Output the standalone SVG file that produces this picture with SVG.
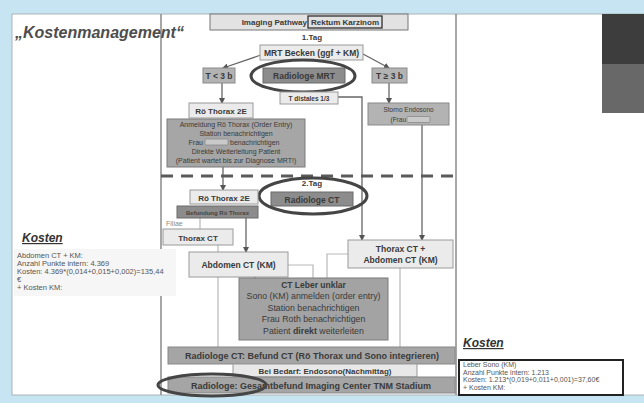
<svg xmlns="http://www.w3.org/2000/svg" width="644" height="403" viewBox="0 0 644 403">
<defs>
<style>
text{font-family:"Liberation Sans",Arial,sans-serif;fill:#3a3a3a}
.b{font-weight:bold}
.c{text-anchor:middle}
.lt{fill:#ebebeb;stroke:#9a9a9a;stroke-width:1}
.md{fill:#b3b3b3;stroke:#8a8a8a;stroke-width:1}
.dk{fill:#8c8c8c;stroke:#6a6a6a;stroke-width:1}
.gy{fill:#a6a6a6;stroke:#7a7a7a;stroke-width:1}
.ell{fill:none;stroke:#454545;stroke-width:3}
.ln{fill:none;stroke:#666;stroke-width:1.3}
.lg{fill:none;stroke:#b8b8b8;stroke-width:1.2}
.sm{font-size:7.5px;fill:#555}
.kh{font-size:12px;font-weight:bold;font-style:italic;text-decoration:underline;fill:#333}
</style>
<marker id="ar" markerWidth="6" markerHeight="6" refX="5" refY="3" orient="auto" markerUnits="userSpaceOnUse">
<path d="M0,0 L6,3 L0,6 z" fill="#555"/>
</marker>
</defs>
<!-- background / frame -->
<rect x="0" y="0" width="644" height="403" fill="#c6e4f1"/>
<rect x="12" y="14" width="633" height="381" fill="#ffffff" stroke="#a9b4b9" stroke-width="1"/>
<line x1="161" y1="14" x2="161" y2="249" stroke="#8a8a8a" stroke-width="1.5"/>
<line x1="161" y1="296" x2="161" y2="395" stroke="#8a8a8a" stroke-width="1.5"/>
<line x1="456" y1="14" x2="456" y2="395" stroke="#8a8a8a" stroke-width="1.5"/>
<rect x="602" y="14" width="42" height="50" fill="#3d3d3d"/>
<rect x="602" y="64" width="42" height="49" fill="#686868"/>

<!-- left panel -->
<g id="title-left">
<text x="15" y="38" font-size="16" font-weight="bold" font-style="italic" style="fill:#4d4d4d">„Kostenmanagement“</text>
</g>
<g id="kosten-left">
<rect x="14" y="249" width="162" height="47" fill="#f6f6f6"/>
<text x="22" y="242" class="kh">Kosten</text>
<text class="sm" x="17" y="258">Abdomen CT  + KM:</text>
<text class="sm" x="17" y="266">Anzahl Punkte intern: 4.369</text>
<text class="sm" x="17" y="274">Kosten: 4.369*(0,014+0,015+0,002)=135,44</text>
<text class="sm" x="17" y="282">€</text>
<text class="sm" x="17" y="290">+ Kosten KM:</text>
</g>

<!-- right panel -->
<g id="kosten-right">
<text x="463" y="347" class="kh">Kosten</text>
<rect x="459" y="360" width="164" height="35" fill="#ffffff" stroke="#222" stroke-width="2"/>
<text class="sm" x="463" y="367" style="font-size:7px">Leber Sono (KM)</text>
<text class="sm" x="463" y="374.5" style="font-size:7px">Anzahl Punkte intern: 1.213</text>
<text class="sm" x="463" y="382" style="font-size:7px">Kosten: 1.213*(0,019+0,011+0,001)=37,60€</text>
<text class="sm" x="463" y="389.5" style="font-size:7px">+ Kosten KM:</text>
</g>

<!-- connectors -->
<g id="connectors">
<line class="ln" x1="261" y1="55" x2="223" y2="68" marker-end="url(#ar)"/>
<line class="ln" x1="363" y1="54" x2="389" y2="68" marker-end="url(#ar)"/>
<line class="ln" x1="222" y1="83" x2="222" y2="103" marker-end="url(#ar)"/>
<line class="ln" x1="389" y1="83" x2="389" y2="103" marker-end="url(#ar)"/>
<path class="ln" d="M338,97 H362 V240" marker-end="url(#ar)"/>
<line class="ln" x1="422" y1="125" x2="422" y2="240" marker-end="url(#ar)"/>
<line class="ln" x1="223" y1="167" x2="223" y2="190" marker-end="url(#ar)"/>
<line class="ln" x1="246" y1="218" x2="246" y2="252" marker-end="url(#ar)"/>
<line class="lg" x1="200" y1="218" x2="200" y2="229"/>
<line class="lg" x1="218" y1="245" x2="218" y2="252"/>
<line class="ln" x1="255" y1="277" x2="255" y2="283"/>
<path class="lg" d="M288,265 H313 V278"/>
<path class="lg" d="M348,254 H327 V278"/>
<line class="lg" x1="218" y1="277" x2="218" y2="347"/>
<line class="lg" x1="400" y1="268" x2="400" y2="347"/>
<line x1="161" y1="176" x2="456" y2="176" stroke="#5a5a5a" stroke-width="3" stroke-dasharray="12,8"/>
</g>

<!-- day 1 -->
<g id="title-box">
<rect x="210" y="14" width="198" height="16" fill="#e2e2e2" stroke="#777"/>
<text x="307" y="25" font-size="8" class="b" text-anchor="end">Imaging Pathway</text>
<rect x="308" y="16" width="74" height="12" fill="none" stroke="#222" stroke-width="1.2"/>
<text x="345" y="25" font-size="8" class="b c">Rektum Karzinom</text>
</g>
<g id="tag1"><text x="312" y="40" font-size="8" class="b c">1.Tag</text></g>
<g id="mrt-becken">
<rect class="lt" x="260" y="45" width="103" height="15"/>
<text x="311.5" y="56" font-size="8.5" class="b c">MRT Becken (ggf + KM)</text>
</g>
<g id="t-lt3b">
<rect class="md" x="203" y="68" width="32" height="15"/>
<text x="219" y="79" font-size="8.5" class="b c">T &lt; 3 b</text>
</g>
<g id="radiologe-mrt">
<rect class="dk" x="263" y="68" width="82" height="15"/>
<text x="304" y="79" font-size="8.5" class="b c">Radiologe MRT</text>
<ellipse class="ell" cx="303" cy="76" rx="52" ry="16"/>
</g>
<g id="t-ge3b">
<rect class="md" x="372" y="68" width="35" height="15"/>
<text x="389.5" y="79" font-size="8.5" class="b c">T ≥ 3 b</text>
</g>
<g id="t-distales">
<rect class="lt" x="280" y="92" width="58" height="12"/>
<text x="309" y="101" font-size="6.5" class="b c">T distales 1/3</text>
</g>
<g id="roe-thorax-1">
<rect class="lt" x="189" y="103" width="64" height="15"/>
<text x="221" y="114" font-size="8" class="b c">Rö Thorax 2E</text>
</g>
<g id="anmeldung">
<rect class="gy" x="167" y="119" width="138" height="48"/>
<text x="236" y="127" font-size="7" class="c">Anmeldung Rö Thorax (Order Entry)</text>
<text x="236" y="136" font-size="7" class="c">Station benachrichtigen</text>
<text x="203" y="145" font-size="7" text-anchor="end">Frau</text>
<rect x="205" y="139" width="23" height="6" rx="1" fill="#c9c9c9" stroke="#8a8a8a" stroke-width="0.8"/>
<text x="230" y="145" font-size="7">benachrichtigen</text>
<text x="236" y="154" font-size="7" class="c">Direkte Weiterleitung Patient</text>
<text x="236" y="163" font-size="7" class="c">(Patient wartet bis zur Diagnose MRT!)</text>
</g>
<g id="storno">
<rect class="md" x="368" y="103" width="81" height="22"/>
<text x="408.5" y="112" font-size="6.5" class="c">Storno  Endosono</text>
<text x="406" y="122" font-size="6.5" text-anchor="end">(Frau</text>
<rect x="407" y="116.5" width="23" height="6" rx="1" fill="#c9c9c9" stroke="#8a8a8a" stroke-width="0.8"/>
</g>

<!-- day 2 -->
<g id="tag2"><text x="312" y="186" font-size="8" class="b c">2.Tag</text></g>
<g id="radiologe-ct">
<rect class="dk" x="271" y="192" width="82" height="14"/>
<text x="312" y="202.5" font-size="8.5" class="b c">Radiologe CT</text>
<ellipse class="ell" cx="313" cy="196" rx="54" ry="18"/>
</g>
<g id="roe-thorax-2">
<rect class="lt" x="190" y="190" width="68" height="14"/>
<text x="224" y="200.5" font-size="8" class="b c">Rö Thorax 2E</text>
</g>
<g id="befundung">
<rect class="dk" x="177" y="206" width="81" height="12"/>
<text x="217.5" y="214.5" font-size="6" class="b c" style="fill:#444">Befundung  Rö Thorax</text>
</g>
<g id="filiae"><text x="166" y="226" font-size="7" style="fill:#8a8a8a">Filiae</text></g>
<g id="thorax-ct">
<rect class="lt" x="163" y="229" width="70" height="16"/>
<text x="198" y="240.5" font-size="8" class="b c">Thorax  CT</text>
</g>
<g id="abdomen-ct">
<rect class="lt" x="189" y="252" width="99" height="25"/>
<text x="238.5" y="267.5" font-size="8.5" class="b c">Abdomen CT (KM)</text>
</g>
<g id="thorax-abdomen-ct">
<rect class="lt" x="348" y="240" width="105" height="28"/>
<text x="400.5" y="252" font-size="8.5" class="b c">Thorax CT  +</text>
<text x="400.5" y="263" font-size="8.5" class="b c">Abdomen CT  (KM)</text>
</g>
<g id="ct-leber">
<rect x="239" y="278" width="149" height="62" fill="#a3a3a3" stroke="#7a7a7a"/>
<text x="313.5" y="288" font-size="8.5" class="b c">CT Leber unklar</text>
<text x="313.5" y="299" font-size="8.8" class="c">Sono (KM) anmelden (order entry)</text>
<text x="313.5" y="310.5" font-size="8.8" class="c">Station benachrichtigen</text>
<text x="313.5" y="322" font-size="8.8" class="c">Frau Roth benachrichtigen</text>
<text x="313.5" y="333.5" font-size="8.8" class="c">Patient <tspan font-weight="bold">direkt</tspan> weiterleiten</text>
</g>
<g id="befund-ct">
<rect x="168" y="347" width="287" height="17" fill="#a5a5a5" stroke="#888"/>
<text x="312" y="359" font-size="9" class="b c">Radiologe CT:  Befund CT (Rö Thorax und Sono integrieren)</text>
</g>
<g id="endosono">
<rect x="233" y="364" width="184" height="13" fill="#e8e8e8" stroke="#999"/>
<text x="325" y="374" font-size="8" class="b c">Bei Bedarf: Endosono(Nachmittag)</text>
</g>
<g id="gesamtbefund">
<rect x="168" y="377" width="287" height="16" fill="#a5a5a5" stroke="#888"/>
<text x="311" y="388.5" font-size="9" class="b c">Radiologe:  Gesamtbefund Imaging Center TNM Stadium</text>
<ellipse class="ell" cx="212" cy="385" rx="54" ry="11"/>
</g>
</svg>
